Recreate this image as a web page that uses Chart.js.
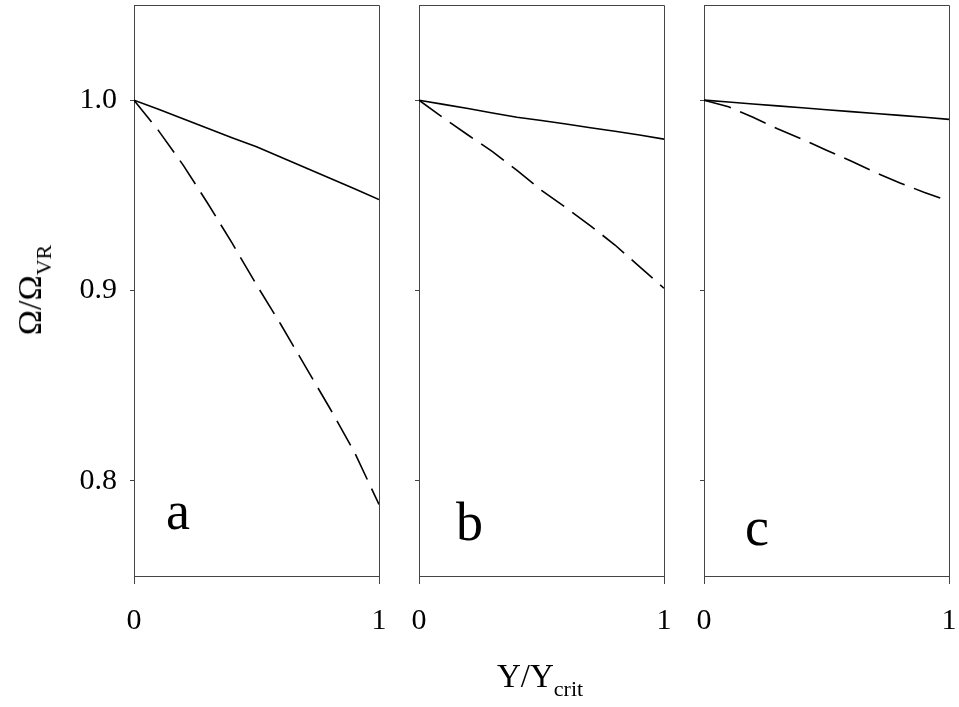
<!DOCTYPE html>
<html>
<head>
<meta charset="utf-8">
<script src="https://cdn.jsdelivr.net/npm/chart.js@4"></script>
<style>
  html, body { margin: 0; padding: 0; background: #fff; }
  #wrap { position: relative; width: 959px; height: 707px; overflow: hidden; font-family: 'Liberation Serif', 'Times New Roman', serif; color: #000; }
  canvas { position: absolute; top: 0; }
  .lbl { position: absolute; white-space: nowrap; line-height: 1; }
  .sub { position: relative; }
</style>
</head>
<body>
<div id="wrap">
  <canvas id="panelA" width="395" height="707" style="left:0px"></canvas>
  <canvas id="panelB" width="285" height="707" style="left:395px"></canvas>
  <canvas id="panelC" width="279" height="707" style="left:680px"></canvas>

  <div class="lbl" id="ytitle" style="font-size:34px; left:30px; top:290px; transform: translate(-50%, -50%) rotate(-90deg);">Ω/Ω<span class="sub" style="font-size:22px; top:10px;">VR</span></div>
  <div class="lbl" style="font-size:33px; left:497px; top:660px;">Y/Y<span class="sub" style="font-size:22px; top:9px;">crit</span></div>

  <div class="lbl" style="font-size:54px; left:166px; top:484px;">a</div>
  <div class="lbl" style="font-size:54px; left:456px; top:495px;">b</div>
  <div class="lbl" style="font-size:54px; left:745px; top:500px;">c</div>
</div>
<script>
// x positions along Y/Ycrit
const xValues = [0, 0.1, 0.2, 0.3, 0.4, 0.5, 0.6, 0.7, 0.8, 0.9, 1.0];

// panel a
const solidA  = [1.000, 0.9952, 0.9902, 0.9852, 0.9802, 0.9755, 0.9700, 0.9645, 0.9590, 0.9535, 0.9478];
const dashedA = [1.000, 0.9840, 0.9660, 0.9460, 0.9250, 0.9030, 0.8820, 0.8600, 0.8380, 0.8150, 0.7876];

// panel b
const solidB  = [1.000, 0.9978, 0.9956, 0.9933, 0.9910, 0.9893, 0.9875, 0.9855, 0.9837, 0.9817, 0.9795];
const dashedB = [1.000, 0.9906, 0.9817, 0.9730, 0.9631, 0.9526, 0.9435, 0.9340, 0.9239, 0.9125, 0.9012];

// panel c
const solidC  = [1.000, 0.9990, 0.9980, 0.9970, 0.9960, 0.9950, 0.9940, 0.9930, 0.9920, 0.9910, 0.9899];
const dashedC = [1.000, 0.9965, 0.9910, 0.9850, 0.9795, 0.9737, 0.9680, 0.9620, 0.9565, 0.9515, 0.9470];

const xTicks = [0, 1];
const yTicks = [0.8, 0.9, 1.0];
const yMin = 0.75;
const yMax = 1.05;

const axisColor = '#444';
const tickFont = { family: "'Liberation Serif', 'Times New Roman', serif", size: 30 };

// closes the frame (top + right sides)
const frameBox = {
  id: 'frameBox',
  afterDraw(chart) {
    const { ctx, chartArea } = chart;
    const l = Math.round(chartArea.left) + 0.5;
    const r = Math.round(chartArea.right) + 0.5;
    const t = Math.round(chartArea.top) + 0.5;
    const b = Math.round(chartArea.bottom) + 0.5;
    ctx.save();
    ctx.strokeStyle = axisColor;
    ctx.lineWidth = 1;
    ctx.beginPath();
    ctx.moveTo(l, t);
    ctx.lineTo(r, t);
    ctx.lineTo(r, b);
    ctx.stroke();
    ctx.restore();
  },
};

function toPoints(ys) {
  return xValues.map((x, i) => ({ x, y: ys[i] }));
}

// kill the automatic label overhang padding so the frame sits where we want it
function noPad(s) {
  s.paddingTop = 0;
  s.paddingBottom = 0;
  s.paddingLeft = 0;
  s.paddingRight = 0;
}

function makePanel(id, solid, dashed, axisWidth, padRight, showYLabels) {
  const ctx = document.getElementById(id).getContext('2d');
  return new Chart(ctx, {
    type: 'line',
    data: {
      datasets: [
        { data: toPoints(solid), borderColor: '#000', borderWidth: 1.6, pointRadius: 0, tension: 0 },
        { data: toPoints(dashed), borderColor: '#000', borderWidth: 1.6, borderDash: [28, 10], pointRadius: 0, tension: 0 },
      ],
    },
    options: {
      responsive: false,
      animation: false,
      layout: { padding: { top: 5, right: padRight, left: 0, bottom: 0 } },
      plugins: { legend: { display: false }, tooltip: { enabled: false } },
      scales: {
        x: {
          type: 'linear',
          min: 0,
          max: 1,
          afterBuildTicks: (s) => { s.ticks = xTicks.map(v => ({ value: v })); },
          afterFit: (s) => { s.height = 131; noPad(s); },
          grid: { drawOnChartArea: false, drawTicks: true, tickLength: 8, color: axisColor },
          border: { display: true, color: axisColor },
          ticks: { font: tickFont, color: '#000', padding: 19, maxRotation: 0, callback: (v) => String(v) },
        },
        y: {
          type: 'linear',
          min: yMin,
          max: yMax,
          afterBuildTicks: (s) => { s.ticks = yTicks.map(v => ({ value: v })); },
          afterFit: (s) => { s.width = axisWidth; noPad(s); },
          grid: { drawOnChartArea: false, drawTicks: true, tickLength: 4, color: axisColor },
          border: { display: true, color: axisColor },
          ticks: {
            font: tickFont,
            color: '#000',
            padding: 13,
            callback: (v) => (showYLabels ? v.toFixed(1) : ''),
          },
        },
      },
    },
    plugins: [frameBox],
  });
}

makePanel('panelA', solidA, dashedA, 134, 16, true);
makePanel('panelB', solidB, dashedB, 24, 16, false);
makePanel('panelC', solidC, dashedC, 24, 10, false);
</script>
</body>
</html>
